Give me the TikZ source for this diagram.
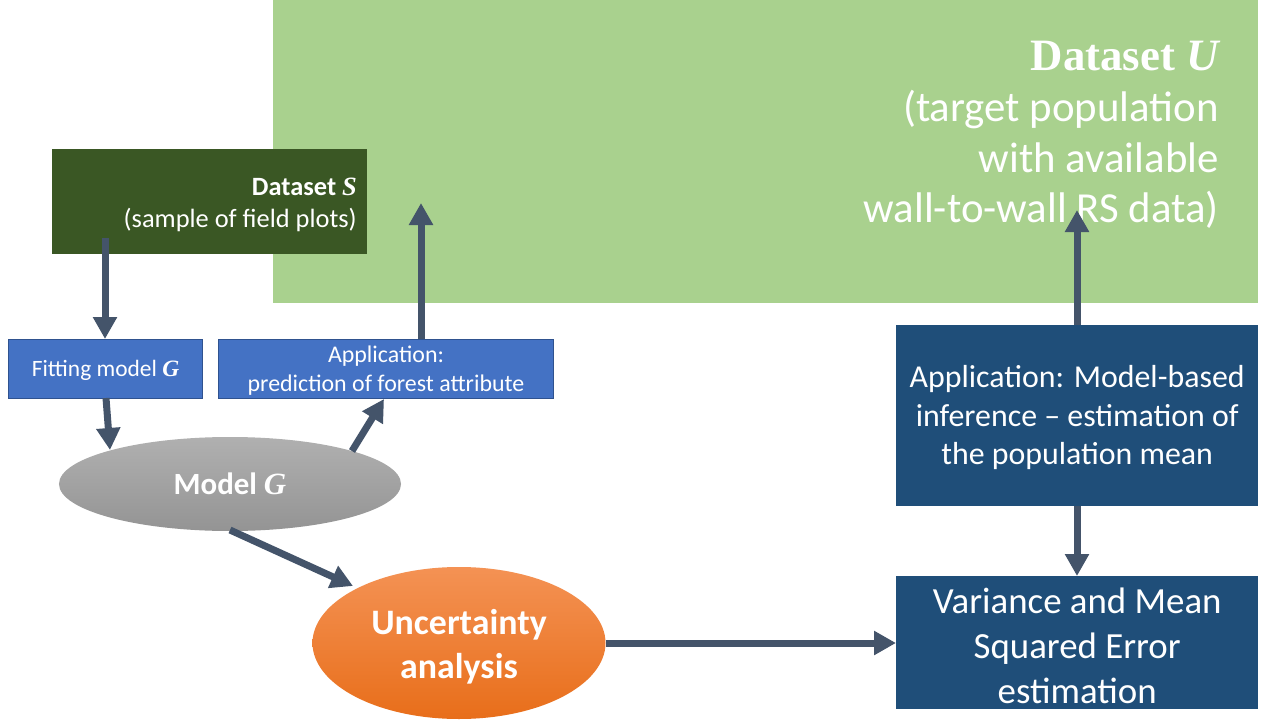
\documentclass[tikz,border=0pt]{standalone}
\usepackage{fontspec}
\setmainfont{Carlito}
\newfontfamily\mathser{Liberation Serif}
\usetikzlibrary{arrows.meta,shapes.geometric}
\definecolor{bigg}{HTML}{A9D18E}
\definecolor{darkg}{HTML}{3A5724}
\definecolor{midb}{HTML}{4472C4}
\definecolor{midbd}{HTML}{2F528F}
\definecolor{navy}{HTML}{1F4E79}
\definecolor{arr}{HTML}{44546A}
\newcommand{\mi}[1]{{\mathser\bfseries\itshape #1}}
\tikzset{
  conn/.style={draw=arr, line width=7bp, -{Triangle[width=23bp,length=22bp]}},
  bluebox/.style={fill=midb, draw=midbd, line width=1bp, text=white, anchor=north west, inner sep=0pt},
  navybox/.style={fill=navy, draw=none, text=white, anchor=north west, inner sep=0pt},
}
\begin{document}
\begin{tikzpicture}[x=1bp,y=-1bp]
\useasboundingbox (0,0) rectangle (1280,720);
\fill[white] (0,0) rectangle (1280,720);
% big green dataset U
\node[fill=bigg, minimum width=985bp, minimum height=303bp, anchor=north west, inner sep=0pt] (U) at (273,0) {};
\node[anchor=east, align=right, text=white, inner sep=0pt, font=\fontsize{43}{51}\selectfont] (Ut) at (1219,135)
  {{\mathser\bfseries\fontsize{45}{51}\selectfont Dataset \itshape U}\\(target population\\with available\\wall-to-wall RS data)};
% dataset S
\node[fill=darkg, minimum width=315bp, minimum height=105bp, anchor=north west, inner sep=0pt] (S) at (52,149) {};
\node[anchor=east, align=right, text=white, inner sep=0pt, font=\fontsize{26.5}{32}\selectfont] (St) at (357,205)
  {\textbf{Dataset} \mi{S}\\(sample of field plots)};
% blue boxes
\node[bluebox, minimum width=194bp, minimum height=59bp] (fit) at (8,339) {};
\node[text=white, font=\fontsize{23.5}{28}\selectfont] at ([yshift=-1bp]fit.center) {Fitting model \mi{G}};
\node[bluebox, minimum width=335bp, minimum height=59bp] (app) at (218,339) {};
\node[text=white, align=center, font=\fontsize{24}{29}\selectfont] at ([yshift=-2bp]app.center) {Application:\\prediction of forest attribute};
% model G ellipse
\node[ellipse, minimum width=342bp, minimum height=94bp, top color=gray!62, bottom color=gray!84, draw=none, text=white, font=\fontsize{31}{36}\selectfont\bfseries] (G) at (230,484) {Model \mi{G}};
% uncertainty
\node[ellipse, minimum width=293bp, minimum height=152bp, inner sep=0pt, top color={rgb,255:red,244;green,146;blue,84}, bottom color={rgb,255:red,232;green,110;blue,26}, draw=none] (unc) at (459,643) {};
\node[text=white, align=center, font=\fontsize{36}{44}\selectfont\bfseries] at ([yshift=-4bp]unc.center) {Uncertainty\\analysis};
% navy boxes
\node[navybox, minimum width=362bp, minimum height=181bp] (mb) at (896,325) {};
\node[text=white, align=center, font=\fontsize{32}{38.5}\selectfont] at ([yshift=-2bp]mb.center) {Application: Model-based\\inference -- estimation of\\the population mean};
\node[navybox, minimum width=362bp, minimum height=133bp] (var) at (896,576) {};
\node[text=white, align=center, font=\fontsize{37}{45}\selectfont] at ([yshift=-3bp]var.center) {Variance and Mean\\Squared Error\\estimation};
% connectors
\coordinate (sx) at (105,238);
\coordinate (uin) at (421,203);
\coordinate (uin2) at (1077,210);
\draw[conn] (sx) -- (fit.north -| sx);
\draw[conn] (106,398) -- (110,450);
\draw[conn] (352,451) -- (384,399);
\draw[conn] (app.north -| uin) -- (uin);
\draw[conn] (230,530) -- (353,586);
\draw[conn] (unc.east) -- (var.west |- unc.east);
\draw[conn] (mb.north -| uin2) -- (uin2);
\draw[conn] (mb.south -| uin2) -- (var.north -| uin2);
\end{tikzpicture}
\end{document}
